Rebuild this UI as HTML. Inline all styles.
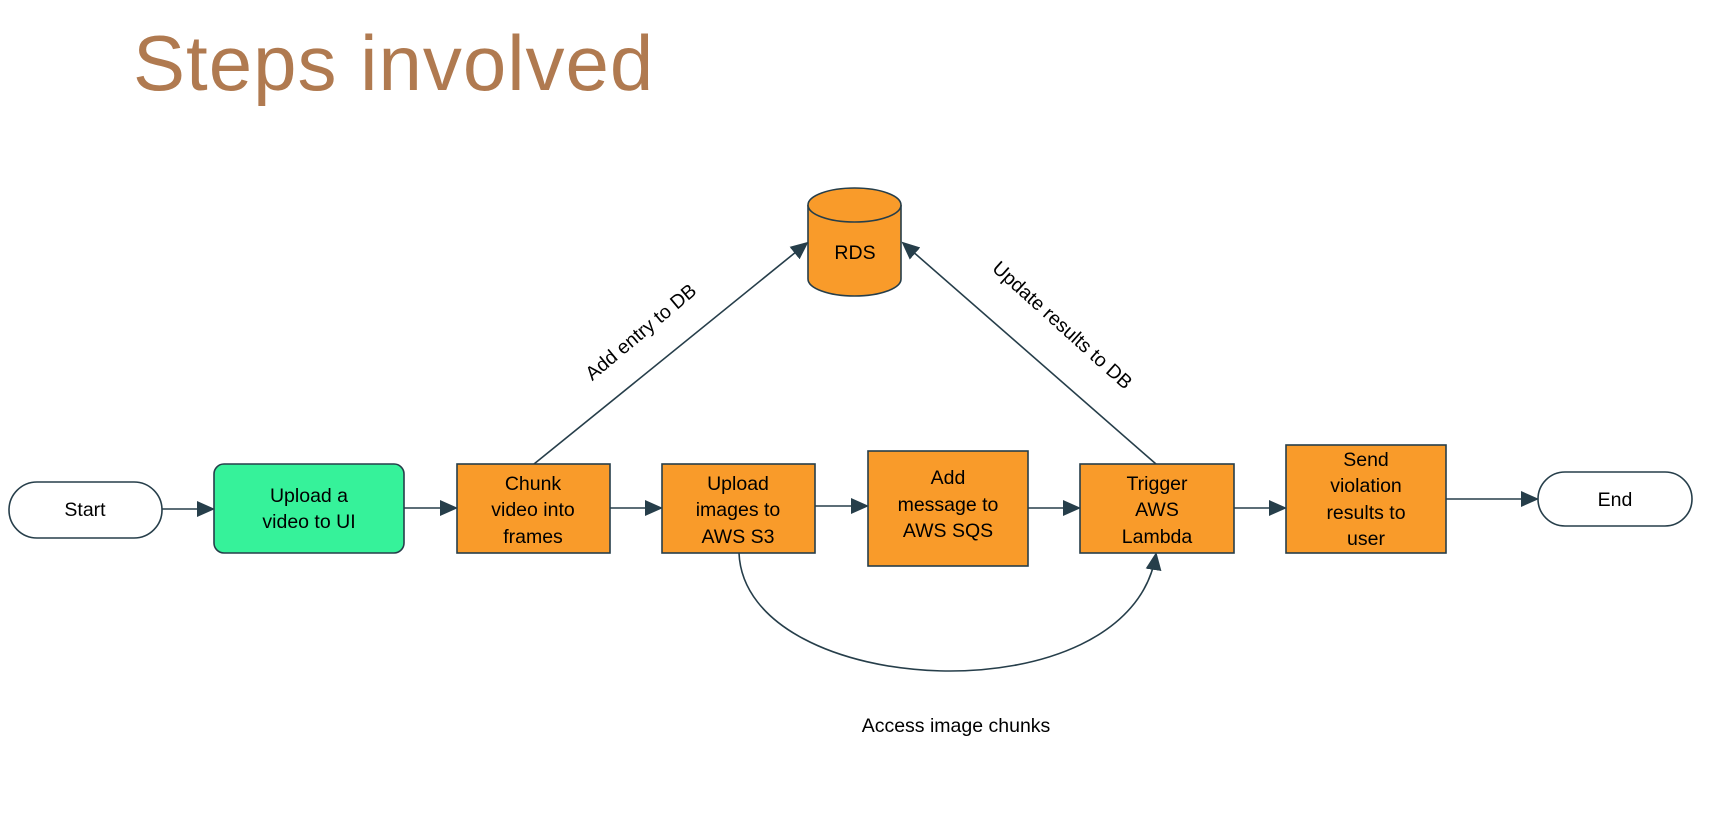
<!DOCTYPE html>
<html><head><meta charset="utf-8"><style>
html,body{margin:0;padding:0;background:#fff;}
svg{display:block;}
text{font-family:"Liberation Sans",Arial,sans-serif;}
</style></head><body>
<svg width="1728" height="813" viewBox="0 0 1728 813" xmlns="http://www.w3.org/2000/svg">
<defs>
<marker id="a" markerWidth="10" markerHeight="10" refX="9" refY="5" orient="auto" markerUnits="userSpaceOnUse" viewBox="0 0 10 10">
<path d="M0,0 L10,5 L0,10 Z" fill="#263e4a"/></marker>
<marker id="b" markerWidth="18" markerHeight="16" refX="16" refY="8" orient="auto" markerUnits="userSpaceOnUse" viewBox="0 0 18 16">
<path d="M0,0 L18,8 L0,16 Z" fill="#263e4a"/></marker>
</defs>
<text x="133" y="90" font-size="78" fill="#b07a50" style="font-family:'Liberation Sans',sans-serif;letter-spacing:1px">Steps involved</text>

<g stroke="#263e4a" stroke-width="1.6" fill="none">
<line x1="162" y1="509" x2="213" y2="509" marker-end="url(#b)"/>
<line x1="404" y1="508" x2="456" y2="508" marker-end="url(#b)"/>
<line x1="610" y1="508" x2="661" y2="508" marker-end="url(#b)"/>
<line x1="815" y1="506" x2="867" y2="506" marker-end="url(#b)"/>
<line x1="1028" y1="508" x2="1079" y2="508" marker-end="url(#b)"/>
<line x1="1234" y1="508" x2="1285" y2="508" marker-end="url(#b)"/>
<line x1="1446" y1="499" x2="1537" y2="499" marker-end="url(#b)"/>
<line x1="534" y1="464" x2="807" y2="243" marker-end="url(#b)"/>
<line x1="1156" y1="464" x2="903" y2="243" marker-end="url(#b)"/>
<path d="M739,553 C745,700 1130,720 1156,554" marker-end="url(#b)"/>
</g>

<g stroke="#263e4a" stroke-width="1.6">
<rect x="9" y="482" width="153" height="56" rx="28" fill="#fff"/>
<rect x="214" y="464" width="190" height="89" rx="10" fill="#36f29a"/>
<rect x="457" y="464" width="153" height="89" fill="#f99b2a"/>
<rect x="662" y="464" width="153" height="89" fill="#f99b2a"/>
<rect x="868" y="451" width="160" height="115" fill="#f99b2a"/>
<rect x="1080" y="464" width="154" height="89" fill="#f99b2a"/>
<rect x="1286" y="445" width="160" height="108" fill="#f99b2a"/>
<rect x="1538" y="472" width="154" height="54" rx="27" fill="#fff"/>
<path d="M808,205 L808,279 A46.5,17 0 0 0 901,279 L901,205" fill="#f99b2a"/>
<ellipse cx="854.5" cy="205" rx="46.5" ry="17" fill="#f99b2a"/>
</g>

<g font-size="19.5" fill="#000" text-anchor="middle">
<text x="85" y="516">Start</text>
<text x="309" y="502">Upload a</text>
<text x="309" y="528">video to UI</text>
<text x="533" y="490">Chunk</text>
<text x="533" y="516">video into</text>
<text x="533" y="543">frames</text>
<text x="738" y="490">Upload</text>
<text x="738" y="516">images to</text>
<text x="738" y="543">AWS S3</text>
<text x="948" y="484">Add</text>
<text x="948" y="511">message to</text>
<text x="948" y="537">AWS SQS</text>
<text x="1157" y="490">Trigger</text>
<text x="1157" y="516">AWS</text>
<text x="1157" y="543">Lambda</text>
<text x="1366" y="466">Send</text>
<text x="1366" y="492">violation</text>
<text x="1366" y="519">results to</text>
<text x="1366" y="545">user</text>
<text x="1615" y="506">End</text>
<text x="855" y="259">RDS</text>
<text x="956" y="732">Access image chunks</text>
<text transform="translate(645,337) rotate(-40)" x="0" y="0">Add entry to DB</text>
<text transform="translate(1058,330) rotate(42)" x="0" y="0">Update results to DB</text>
</g>
</svg>
</body></html>
